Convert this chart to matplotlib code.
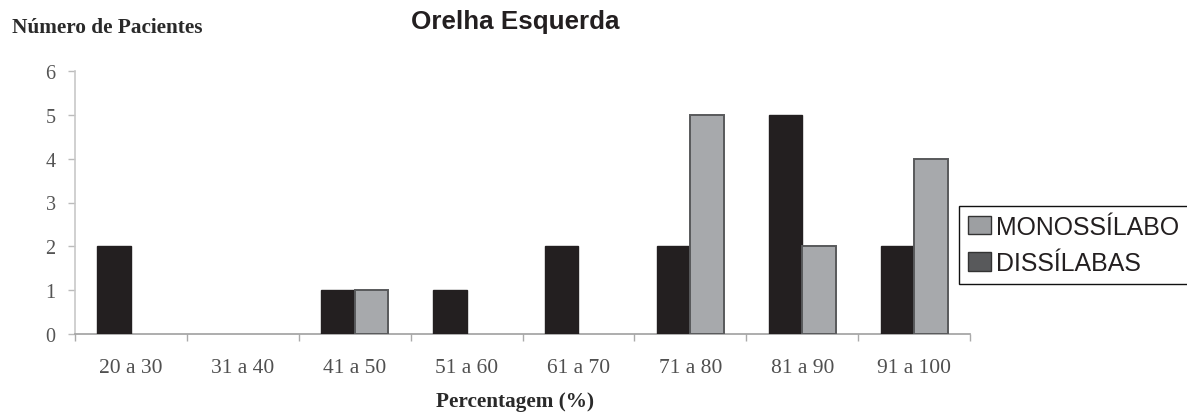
import matplotlib
matplotlib.use("Agg")
import matplotlib.pyplot as plt
from matplotlib.patches import Patch
import numpy as np

categories = ["20 a 30", "31 a 40", "41 a 50", "51 a 60",
              "61 a 70", "71 a 80", "81 a 90", "91 a 100"]
dissilabas = [2, 0, 1, 1, 2, 2, 5, 2]
monossilabo = [0, 0, 1, 0, 0, 5, 2, 4]
y_ticks = [0, 1, 2, 3, 4, 5, 6]

BAR_DARK = "#231f20"
BAR_LIGHT = "#a7a9ac"
EDGE_LIGHT = "#58595b"
SERIF = ["Liberation Serif", "DejaVu Serif"]
SANS = ["Liberation Sans", "DejaVu Sans"]

fig = plt.figure(figsize=(11.87, 4.14), dpi=100)
ax = fig.add_axes([75 / 1187, 1 - 335 / 414, (970 - 75) / 1187, (335 - 72) / 414])

x = np.arange(len(categories))
w = 0.3
ax.bar(x - w / 2, dissilabas, width=w, color=BAR_DARK, edgecolor=BAR_DARK,
       linewidth=[1.0 if v > 0 else 0 for v in dissilabas], zorder=3)
ax.bar(x + w / 2, monossilabo, width=w, color=BAR_LIGHT, edgecolor=EDGE_LIGHT,
       linewidth=[1.4 if v > 0 else 0 for v in monossilabo], zorder=3)

ax.set_xlim(-0.5, len(categories) - 0.5)
ax.set_ylim(0, 6)
ax.set_yticks(y_ticks)
ax.set_yticklabels([str(t) for t in y_ticks], family=SERIF, fontsize=14.5, color="#555555")

# category boundaries carry the tick marks, centres carry the labels
ax.set_xticks(np.arange(-0.5, len(categories)), minor=False)
ax.set_xticklabels([])
ax.set_xticks(x, minor=True)
ax.set_xticklabels(categories, minor=True, family=SERIF, fontsize=15.5, color="#505050")
ax.tick_params(axis="x", which="major", length=5, color="#aaaaaa", width=1)
ax.tick_params(axis="x", which="minor", length=0, pad=17)
ax.tick_params(axis="y", length=5, color="#bbbbbb", width=1, pad=9)

for s in ("top", "right"):
    ax.spines[s].set_visible(False)
ax.spines["left"].set_color("#c8c8c8")
ax.spines["bottom"].set_color("#a0a0a0")
ax.spines["left"].set_linewidth(1.2)
ax.spines["bottom"].set_linewidth(1.2)

fig.text(12 / 1187, 1 - 28 / 414, "Número de Pacientes", family=SERIF,
         fontweight="bold", fontsize=15.3, color="#2a2a2a", va="center", ha="left")
fig.text(515 / 1187, 1 - 22 / 414, "Orelha Esquerda", family=SANS,
         fontweight="bold", fontsize=18.7, color="#231f20", va="center", ha="center")
fig.text(515 / 1187, 1 - 402 / 414, "Percentagem (%)", family=SERIF,
         fontweight="bold", fontsize=15.3, color="#2a2a2a", va="center", ha="center")

handles = [Patch(facecolor="#9d9fa2", edgecolor="#333333", linewidth=1.0),
           Patch(facecolor="#58595b", edgecolor="#333333", linewidth=1.0)]
leg = fig.legend(handles, ["MONOSSÍLABO", "DISSÍLABAS"],
                 loc="upper left", bbox_to_anchor=(959 / 1187, 1 - 207 / 414),
                 prop={"family": SANS, "size": 17.9},
                 frameon=True, fancybox=False, shadow=False,
                 edgecolor="#111111", framealpha=1,
                 handlelength=0.95, handleheight=0.75, handletextpad=0.2,
                 labelspacing=0.5, borderpad=0.35, borderaxespad=0)
leg.get_frame().set_linewidth(1.0)
for t in leg.get_texts():
    t.set_color("#231f20")

fig.savefig("out.png", dpi=100)
